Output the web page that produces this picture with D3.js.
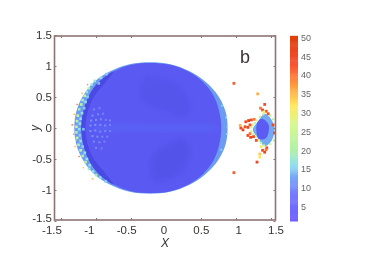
<!DOCTYPE html>
<html>
<head>
<meta charset="utf-8">
<script src="https://cdn.jsdelivr.net/npm/d3@7"></script>
<style>
body { margin: 0; background: #fff; }
text { font-family: "Liberation Sans", Arial, sans-serif; }
</style>
</head>
<body>
<div id="chart"></div>
<script>
// tick labels
var xTickValues = [-1.5, -1, -0.5, 0.5, 1, 1.5];
var yTickValues = [-1.5, -1, -0.5, 0, 0.5, 1, 1.5];
var xLabelValues = [-1.5, -1, -0.5, 0, 0.5, 1, 1.5];
var barTicks = [5, 10, 15, 20, 25, 30, 35, 40, 45, 50];

// colour bar stops
var colorValues = [1, 8, 13, 16, 20, 27, 32, 37, 43, 50];
var colorStops = ["#6c5cff", "#7676ff", "#78a8f8", "#90e0f0", "#b0f0a8", "#d8f890", "#ffe860", "#ffa040", "#f85030", "#e04010"];

// main region outlines, [x, y]
var mainRim = [[0.88,0],[0.85,0.27],[0.74,0.53],[0.56,0.75],[0.33,0.92],[0.06,1.03],[-0.23,1.06],[-0.52,1.03],[-0.79,0.92],[-1.02,0.75],[-1.18,0.53],[-1.28,0.27],[-1.31,0],[-1.28,-0.27],[-1.18,-0.53],[-1.02,-0.75],[-0.79,-0.92],[-0.52,-1.03],[-0.23,-1.06],[0.06,-1.03],[0.33,-0.92],[0.56,-0.75],[0.74,-0.53],[0.85,-0.27]];
var mainCore = [[0.79,0],[0.76,0.27],[0.68,0.52],[0.53,0.74],[0.32,0.91],[0.06,1.02],[-0.22,1.05],[-0.5,1.02],[-0.75,0.91],[-0.96,0.74],[-1.1,0.52],[-1.18,0.27],[-1.21,0],[-1.18,-0.27],[-1.1,-0.52],[-0.96,-0.74],[-0.75,-0.91],[-0.5,-1.02],[-0.22,-1.05],[0.06,-1.02],[0.32,-0.91],[0.53,-0.74],[0.68,-0.52],[0.76,-0.27]];
// slightly darker parts inside the core
var leftCrescent = [[-0.75,0.91],[-0.96,0.74],[-1.1,0.52],[-1.18,0.27],[-1.21,0],[-1.18,-0.27],[-1.1,-0.52],[-0.96,-0.74],[-0.75,-0.91],[-0.86,-0.74],[-1.03,-0.5],[-1.12,-0.26],[-1.15,0],[-1.12,0.26],[-1.03,0.5],[-0.86,0.74]];
var upperLobe = [[-0.3,0.8],[0.1,0.72],[0.3,0.5],[0.34,0.28],[0.2,0.18],[0.05,0.28],[-0.15,0.32],[-0.35,0.5]];
var lowerLobe = [[-0.15,-0.86],[0.12,-0.78],[0.3,-0.55],[0.34,-0.3],[0.2,-0.18],[0.05,-0.26],[-0.12,-0.36],[-0.22,-0.6]];
var centreBand = [[-1.0,0.03],[-0.4,0.05],[0.3,0.04],[0.72,0.02],[0.72,-0.02],[0.3,-0.04],[-0.4,-0.05],[-1.0,-0.03]];

// small region on the right
var smallRim = [[1.41,0.23],[1.51,0.13],[1.55,-0.03],[1.51,-0.2],[1.41,-0.29],[1.31,-0.16],[1.24,-0.03],[1.31,0.1]];
var smallCore = [[1.37,0.15],[1.46,0.07],[1.47,-0.03],[1.43,-0.16],[1.33,-0.18],[1.29,-0.03],[1.31,0.1]];

// values along the edges, [x, y, value]
var leftEdge = [[-1.02,0.76,18],[-1.06,0.7,16],[-1.1,0.64,20],[-1.13,0.58,16],[-1.16,0.52,24],[-1.12,0.5,15],[-1.19,0.45,18],[-1.15,0.42,16],[-1.21,0.38,22],[-1.17,0.32,15],[-1.24,0.3,18],[-1.2,0.24,17],[-1.26,0.2,24],[-1.22,0.15,16],[-1.27,0.11,20],[-1.23,0.07,17],[-1.28,0.02,24],[-1.24,-0.02,16],[-1.28,-0.07,20],[-1.23,-0.12,15],[-1.27,-0.16,22],[-1.22,-0.21,17],[-1.25,-0.27,20],[-1.19,-0.3,15],[-1.22,-0.36,24],[-1.16,-0.4,16],[-1.19,-0.45,20],[-1.13,-0.5,17],[-1.15,-0.55,22],[-1.09,-0.6,16],[-1.1,-0.66,18],[-1.04,-0.7,16],[-1.0,-0.76,20],[-0.94,-0.8,16],[-0.86,-0.86,15],[-0.93,0.81,16],[-0.85,0.87,15],[-0.96,0.72,14],[-1.18,-0.02,14]];
var outerSpecks = [[-1.12,0.7,38],[-1.2,0.56,36],[-1.27,0.38,40],[-1.31,0.22,36],[-1.34,0.05,42],[-1.32,-0.1,38],[-1.3,-0.3,36],[-1.24,-0.46,40],[-1.18,-0.64,34],[-1.05,-0.82,36],[-1.28,0.12,30],[-1.29,-0.2,30]];
var mottled = [[-1.03,0.3,10],[-0.95,0.32,9],[-1.05,0.2,11],[-0.97,0.22,10],[-0.9,0.23,9],[-1.07,0.12,11],[-1.0,0.13,11],[-0.93,0.14,10],[-0.86,0.13,9],[-0.8,0.12,9],[-1.08,0.04,11],[-1.01,0.05,11],[-0.94,0.05,10],[-0.87,0.04,10],[-0.8,0.05,9],[-1.08,-0.05,11],[-1.01,-0.04,11],[-0.94,-0.06,10],[-0.87,-0.05,10],[-0.8,-0.05,9],[-1.05,-0.13,11],[-0.98,-0.14,11],[-0.91,-0.14,10],[-0.84,-0.14,9],[-1.03,-0.22,10],[-0.95,-0.23,10],[-0.88,-0.22,9],[-1.0,-0.32,10],[-0.92,-0.33,9]];
var rightEdge = [[0.88,0.02,19],[0.87,-0.1,17],[0.86,0.17,17],[0.8,0.36,16],[0.79,-0.35,16]];
var smallDots = [[1.14,0.1,46],[1.18,0.12,48],[1.22,0.13,46],[1.26,0.14,40],[1.2,0.05,44],[1.17,0.01,48],[1.13,0.02,46],[1.1,-0.03,48],[1.07,0,46],[1.06,0.04,36],[1.17,-0.12,46],[1.21,-0.15,48],[1.25,-0.14,46],[1.2,-0.09,40],[1.29,-0.2,44],[1.35,0.32,40],[1.41,0.38,44],[1.38,0.29,48],[1.43,0.27,46],[1.46,0.23,44],[1.4,0.26,30],[1.31,0.55,36],[1.3,-0.55,46],[1.34,-0.42,34],[1.41,-0.39,47],[1.44,-0.32,46],[1.38,-0.36,44],[1.36,-0.3,30],[1.43,-0.35,40],[1.34,-0.47,32],[1.53,0.05,46],[1.55,-0.08,46],[0.97,0.72,42],[0.97,-0.72,42]];
var smallHalo = [[1.27,0.08,24],[1.24,0.05,28],[1.22,0.01,24],[1.22,-0.05,28],[1.25,-0.1,24],[1.28,-0.14,22],[1.3,0.12,28],[1.34,0.18,24],[1.39,0.22,22],[1.36,-0.24,24],[1.4,-0.28,22],[1.33,-0.2,28],[1.53,0.14,22],[1.54,-0.2,22],[1.49,0.2,24],[1.49,-0.26,24]];

// Define SVG area dimensions
var svgWidth = 385;
var svgHeight = 273;

var svg = d3.select("#chart")
    .append("svg")
    .attr("width", svgWidth)
    .attr("height", svgHeight);

// the scan is soft, so everything gets a small blur
var defs = svg.append("defs");
defs.append("filter").attr("id", "soft")
    .append("feGaussianBlur").attr("stdDeviation", 0.55);
defs.append("filter").attr("id", "softLobe")
    .append("feGaussianBlur").attr("stdDeviation", 2.5);
defs.append("filter").attr("id", "softText")
    .append("feGaussianBlur").attr("stdDeviation", 0.3);

var frame = { left: 54.5, right: 275.5, top: 36, bottom: 220 };

// tick marks and the picture share these scales
var xScale = d3.scaleLinear().domain([-1, 1]).range([96, 236]);
var yScale = d3.scaleLinear().domain([-1, 1]).range([190, 66]);
// the printed labels sit a bit wider than the marks
var xLabelScale = d3.scaleLinear().domain([-1.5, 1.5]).range([52, 276]);
var colorScale = d3.scaleLinear().domain(colorValues).range(colorStops);
var barScale = d3.scaleLinear().domain([1.3, 50.5]).range([221, 36]);

var area = d3.line()
    .x(d => xScale(d[0]))
    .y(d => yScale(d[1]))
    .curve(d3.curveCatmullRomClosed);

var plot = svg.append("g").attr("filter", "url(#soft)");

function drawShape(points, fill) {
    return plot.append("path").attr("d", area(points)).attr("fill", fill);
}

function drawDots(points, size) {
    plot.append("g").selectAll("rect")
        .data(points)
        .enter()
        .append("rect")
        .attr("x", d => xScale(d[0]) - size / 2)
        .attr("y", d => yScale(d[1]) - size / 2)
        .attr("width", size)
        .attr("height", size)
        .attr("fill", d => colorScale(d[2]));
}

drawShape(mainRim, "#6c9cf2");
drawDots(outerSpecks, 1.4);
drawShape(mainCore, "#5a5af2");
drawShape(upperLobe, "#5454ec").attr("filter", "url(#softLobe)");
drawShape(lowerLobe, "#5252ea").attr("filter", "url(#softLobe)");
drawShape(centreBand, "#5a62f5").attr("filter", "url(#softLobe)");
drawShape(leftCrescent, "#4c4ae4");
drawDots(mottled, 2);
drawDots(leftEdge, 2.6);
drawDots(rightEdge, 1.6);
drawShape(smallRim, "#72a8f4");
drawShape(smallCore, "#5c5cf4");
drawDots(smallHalo, 2.2);
drawDots(smallDots, 2.8);

// axes frame
var axisColor = "#8c7474";
svg.append("rect")
    .attr("x", frame.left)
    .attr("y", frame.top)
    .attr("width", frame.right - frame.left)
    .attr("height", frame.bottom - frame.top)
    .attr("fill", "none")
    .attr("stroke", axisColor)
    .attr("stroke-width", 1.6);

var xAxisBottom = svg.append("g").attr("transform", `translate(0, ${frame.bottom})`).call(d3.axisTop(xScale).tickValues(xTickValues).tickSize(2).tickFormat(""));
var xAxisTop = svg.append("g").attr("transform", `translate(0, ${frame.top})`).call(d3.axisBottom(xScale).tickValues(xTickValues).tickSize(2).tickFormat(""));
var yAxisLeft = svg.append("g").attr("transform", `translate(${frame.left}, 0)`).call(d3.axisRight(yScale).tickValues(yTickValues).tickSize(2).tickFormat(""));
var yAxisRight = svg.append("g").attr("transform", `translate(${frame.right}, 0)`).call(d3.axisLeft(yScale).tickValues(yTickValues).tickSize(2).tickFormat(""));
[xAxisBottom, xAxisTop, yAxisLeft, yAxisRight].forEach(function(a) {
    a.select(".domain").remove();
    a.selectAll("line").attr("stroke", axisColor);
});

var labels = svg.append("g").attr("filter", "url(#softText)").attr("fill", "#3a3232");

labels.selectAll(".xlabel")
    .data(xLabelValues)
    .enter()
    .append("text")
    .attr("x", d => xLabelScale(d))
    .attr("y", 234)
    .attr("text-anchor", "middle")
    .attr("font-size", 11.5)
    .text(d => d);

labels.selectAll(".ylabel")
    .data(yTickValues)
    .enter()
    .append("text")
    .attr("x", 52)
    .attr("y", d => d == -1.5 ? 222 : yScale(d) + 4)
    .attr("text-anchor", "end")
    .attr("font-size", 11.5)
    .text(d => d);

labels.append("text")
    .attr("x", 165).attr("y", 247)
    .attr("text-anchor", "middle")
    .attr("font-size", 12)
    .attr("font-style", "italic")
    .text("X");

labels.append("text")
    .attr("transform", "translate(39, 128) rotate(-90)")
    .attr("text-anchor", "middle")
    .attr("font-size", 12)
    .attr("font-style", "italic")
    .text("y");

labels.append("text")
    .attr("x", 245).attr("y", 63)
    .attr("text-anchor", "middle")
    .attr("font-size", 18)
    .text("b");

// colour bar, one thin strip per value step
var barSteps = d3.range(1.3, 50.5, 0.25);
svg.append("g").attr("filter", "url(#softText)").selectAll("rect")
    .data(barSteps)
    .enter()
    .append("rect")
    .attr("x", 290)
    .attr("y", d => barScale(d + 0.25))
    .attr("width", 8)
    .attr("height", d => barScale(d) - barScale(d + 0.25) + 0.5)
    .attr("fill", d => colorScale(d));

svg.append("g").attr("filter", "url(#softText)").selectAll("text")
    .data(barTicks)
    .enter()
    .append("text")
    .attr("x", 301)
    .attr("y", d => barScale(d) + 3)
    .attr("font-size", 9)
    .attr("fill", "#6a6464")
    .text(d => d);
</script>
</body>
</html>
